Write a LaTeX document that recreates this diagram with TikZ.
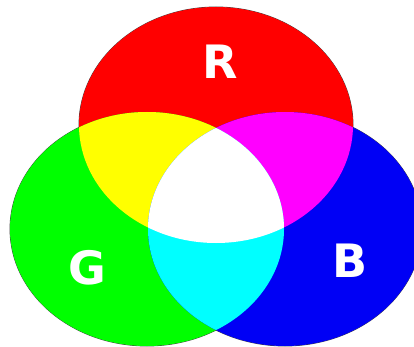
\documentclass[tikz,border=0pt]{standalone}
\usepackage{fontspec}
\newfontfamily\lblfont{DejaVu Sans}
\usepackage{tikz}
\definecolor{lightR}{RGB}{255,0,0}
\definecolor{lightG}{RGB}{0,255,0}
\definecolor{lightB}{RGB}{0,0,245}
\definecolor{mixY}{RGB}{255,255,0}
\definecolor{mixM}{RGB}{255,0,255}
\definecolor{mixC}{RGB}{0,255,255}

\begin{document}
\begin{tikzpicture}[
  x=1pt, y=-1pt,
  rim/.style={draw=black!75, line width=0.8pt},
  lab/.style={text=white, font=\lblfont\bfseries\fontsize{46}{46}\selectfont, inner sep=0pt}
]
\useasboundingbox (0,0) rectangle (414,347);
\fill[white] (0,0) rectangle (414,347);
\def\redE{(216,125) ellipse [x radius=137, y radius=118]}
\def\greenE{(147,229) ellipse [x radius=137, y radius=117]}
\def\blueE{(285,229) ellipse [x radius=137, y radius=117]}
% outlines first, fills cover the inner half
\draw[rim] \redE;
\draw[rim] \greenE;
\draw[rim] \blueE;
\fill[lightR] \redE;
\fill[lightG] \greenE;
\fill[lightB] \blueE;
% overlaps
\begin{scope}
  \clip \redE;
  \fill[mixY] \greenE;
  \fill[mixM] \blueE;
\end{scope}
\begin{scope}
  \clip \greenE;
  \fill[mixC] \blueE;
\end{scope}
\begin{scope}
  \clip \redE;
  \clip \greenE;
  \fill[white] \blueE;
\end{scope}
\node[lab] (r) at (220,62) {R};
\node[lab] (g) at (87,268) {G};
\node[lab] (b) at (350,261) {B};
\end{tikzpicture}
\end{document}
